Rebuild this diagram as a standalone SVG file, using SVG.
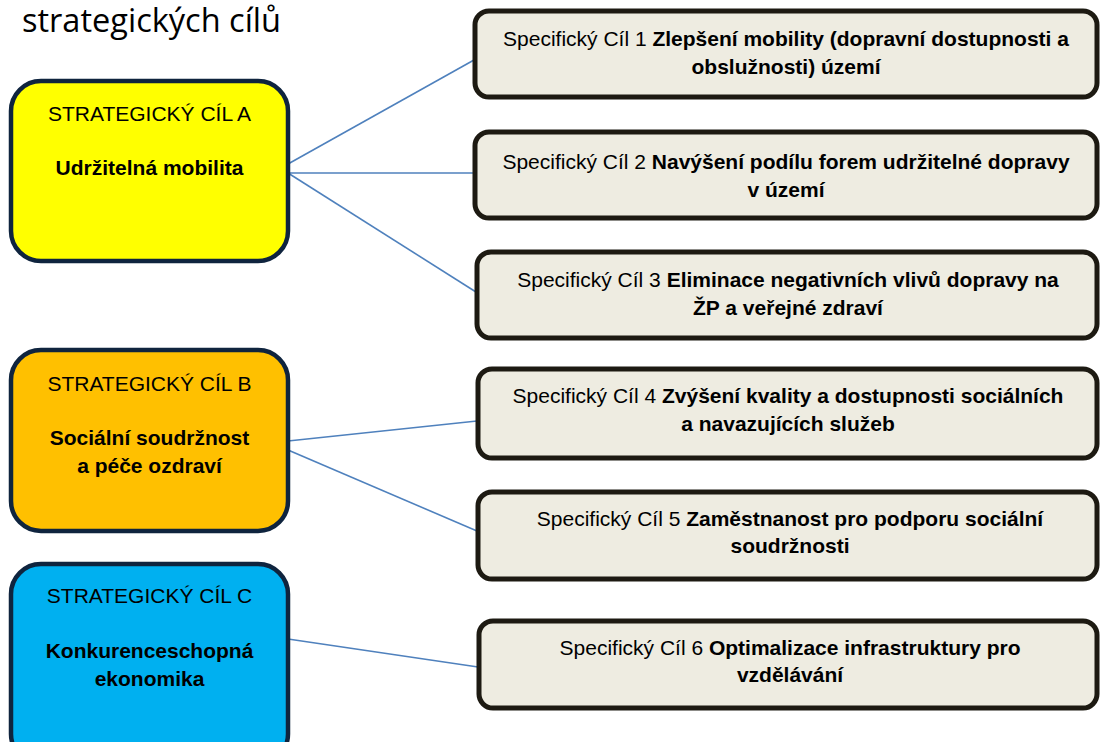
<svg xmlns="http://www.w3.org/2000/svg" width="1100" height="742" viewBox="0 0 1100 742">
<style>
.t{font-family:"Liberation Sans",Arial,sans-serif;font-size:21px;fill:#000;text-anchor:middle}
.b{font-weight:bold}
.sc{fill:#eeece1;stroke:#1d1a12;stroke-width:5}
.st{stroke:#0f243e;stroke-width:4.5}
.c{stroke:#4f81bd;stroke-width:1.6;fill:none}
.title{font-family:"Open Sans","Liberation Sans",sans-serif;font-size:32px;fill:#000}
</style>
<rect width="1100" height="742" fill="#fff"/>
<text class="title" x="22" y="32" textLength="259" lengthAdjust="spacingAndGlyphs">strategických cílů</text>
<g id="connectors">
<line class="c" x1="288" y1="164" x2="474" y2="60"/>
<line class="c" x1="288" y1="173" x2="476" y2="173"/>
<line class="c" x1="288" y1="173" x2="476" y2="292"/>
<line class="c" x1="288" y1="441" x2="477" y2="421"/>
<line class="c" x1="288" y1="450" x2="477" y2="531"/>
<line class="c" x1="288" y1="639" x2="478" y2="667"/>
</g>
<g id="cilA">
<rect class="st" x="11" y="81" width="277" height="180" rx="30" fill="#ffff00"/>
<text class="t" x="149.5" y="121">STRATEGICKÝ CÍL A</text>
<text class="t b" x="149.5" y="175">Udržitelná mobilita</text>
</g>
<g id="cilB">
<rect class="st" x="11" y="350" width="277" height="181" rx="30" fill="#ffc000"/>
<text class="t" x="149.5" y="391">STRATEGICKÝ CÍL B</text>
<text class="t b" x="149.5" y="445">Sociální soudržnost</text>
<text class="t b" x="149.5" y="473">a péče ozdraví</text>
</g>
<g id="cilC">
<rect class="st" x="11" y="564" width="277" height="200" rx="30" fill="#00b0f0"/>
<text class="t" x="149.5" y="603">STRATEGICKÝ CÍL C</text>
<text class="t b" x="149.5" y="658">Konkurenceschopná</text>
<text class="t b" x="149.5" y="686">ekonomika</text>
</g>
<g id="sc1">
<rect class="sc" x="475" y="11" width="622" height="86" rx="14"/>
<text class="t" x="786" y="46">Specifický Cíl 1 <tspan class="b">Zlepšení mobility (dopravní dostupnosti a</tspan></text>
<text class="t b" x="786" y="74">obslužnosti) území</text>
</g>
<g id="sc2">
<rect class="sc" x="475" y="132" width="622" height="86" rx="14"/>
<text class="t" x="786" y="169">Specifický Cíl 2 <tspan class="b">Navýšení podílu forem udržitelné dopravy</tspan></text>
<text class="t b" x="786" y="197">v území</text>
</g>
<g id="sc3">
<rect class="sc" x="477" y="252" width="620" height="86" rx="14"/>
<text class="t" x="788" y="287">Specifický Cíl 3 <tspan class="b">Eliminace negativních vlivů dopravy na</tspan></text>
<text class="t b" x="788" y="315">ŽP a veřejné zdraví</text>
</g>
<g id="sc4">
<rect class="sc" x="478" y="369" width="619" height="89" rx="14"/>
<text class="t" x="788" y="403">Specifický Cíl 4 <tspan class="b">Zvýšení kvality a dostupnosti sociálních</tspan></text>
<text class="t b" x="788" y="431">a navazujících služeb</text>
</g>
<g id="sc5">
<rect class="sc" x="478" y="492" width="619" height="87" rx="14"/>
<text class="t" x="790" y="526">Specifický Cíl 5 <tspan class="b">Zaměstnanost pro podporu sociální</tspan></text>
<text class="t b" x="790" y="553">soudržnosti</text>
</g>
<g id="sc6">
<rect class="sc" x="479" y="621" width="618" height="87" rx="14"/>
<text class="t" x="790" y="655">Specifický Cíl 6 <tspan class="b">Optimalizace infrastruktury pro</tspan></text>
<text class="t b" x="790" y="682">vzdělávání</text>
</g>
</svg>
